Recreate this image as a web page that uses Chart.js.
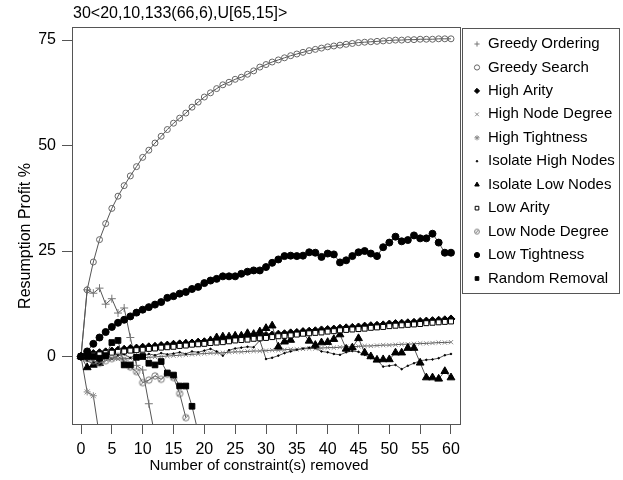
<!DOCTYPE html>
<html>
<head>
<meta charset="utf-8">
<script src="https://cdn.jsdelivr.net/npm/chart.js@4.4.1/dist/chart.umd.min.js"></script>
<style>
  html, body { margin: 0; padding: 0; background: #fff; }
  #wrap { position: relative; width: 623px; height: 480px; }
</style>
</head>
<body>
<div id="wrap"><canvas id="chart"></canvas></div>
<script>
var chartTitle = '30<20,10,133(66,6),U[65,15]>';
var xTitle = 'Number of constraint(s) removed';
var yTitle = 'Resumption Profit %';
var xTicks = [0, 5, 10, 15, 20, 25, 30, 35, 40, 45, 50, 55, 60];
var yTicks = [0, 25, 50, 75];

var seriesNames = ['Greedy Ordering', 'Greedy Search', 'High Arity', 'High Node Degree', 'High Tightness',
  'Isolate High Nodes', 'Isolate Low Nodes', 'Low Arity', 'Low Node Degree', 'Low Tightness', 'Random Removal'];

// values per removed constraint (index = number removed)
var greedyOrdering = [0, 15.8, 15.0, 16.2, 12.4, 13.7, 10.3, 11.5, 4.5, -2.1, -3.2, -11.2, -19];
var greedySearch = [0, 15.8, 22.4, 27.7, 31.5, 35.1, 38.0, 40.5, 42.8, 45.0, 47.2, 48.9, 50.6, 52.2, 53.8,
  55.3, 56.5, 57.7, 59.1, 60.3, 61.5, 62.5, 63.5, 64.4, 65.0, 65.7, 66.2, 66.9, 67.7, 68.6, 69.2, 69.8,
  70.3, 70.8, 71.3, 71.7, 72.1, 72.5, 72.8, 73.1, 73.4, 73.6, 73.8, 74.0, 74.2, 74.4, 74.5, 74.6, 74.7,
  74.8, 74.9, 75.0, 75.0, 75.1, 75.1, 75.2, 75.2, 75.2, 75.3, 75.3, 75.3];
var highArity = [0, 0.4, 0.7, 0.9, 1.1, 1.3, 1.5, 1.7, 1.9, 2.0, 2.2, 2.3, 2.4, 2.6, 2.7, 2.9, 3.0, 3.1,
  3.2, 3.4, 3.5, 3.7, 3.8, 4.0, 4.1, 4.3, 4.4, 4.5, 4.7, 4.8, 5.0, 5.1, 5.3, 5.4, 5.6, 5.7, 5.9, 6.0,
  6.1, 6.3, 6.4, 6.5, 6.7, 6.8, 6.9, 7.0, 7.2, 7.3, 7.4, 7.5, 7.7, 7.8, 7.9, 8.0, 8.1, 8.3, 8.4, 8.5,
  8.6, 8.7, 8.9];
var highNodeDegree = [0, -0.4, -0.6, -0.7, -0.7, -0.6, -0.6, -0.5, -0.4, -0.4, -0.3, -0.2, -0.1, 0, 0.1,
  0.2, 0.3, 0.4, 0.5, 0.6, 0.7, 0.8, 0.8, 0.9, 1.0, 1.1, 1.1, 1.2, 1.3, 1.3, 1.4, 1.5, 1.5, 1.6, 1.7,
  1.7, 1.8, 1.9, 1.9, 2.0, 2.1, 2.1, 2.2, 2.3, 2.3, 2.4, 2.5, 2.5, 2.6, 2.7, 2.7, 2.8, 2.9, 2.9, 3.0,
  3.1, 3.1, 3.2, 3.3, 3.3, 3.4];
var highTightness = [0, -8.4, -9.3, -19];
var isolateHighNodes = [0, -1.0, -1.8, -0.5, 0.3, -0.5, 0.2, 0.5, -0.3, 0.4, 0.0, 0.6, 0.3, 0.8, 0.5,
  0.7, 1.0, 0.6, 1.2, 1.0, 1.4, 1.8, 1.2, 0.2, 1.5, 1.9, 2.1, 2.3, 2.2, 3.8, -0.6, -0.3, 0.2, 0.8, 1.2,
  1.6, 1.9, 2.1, 2.0, 1.2, 1.0, 0.6, 0.4, 1.0, 1.3, 1.1, 0.4, -0.4, -0.8, -2.4, -2.2, -2.0, -3.0, -2.2,
  -1.6, -1.0, -0.8, -0.7, -0.4, 0.3, 0.6];
var isolateLowNodes = [0, -2.6, -2.0, -1.6, 0.5, 1.0, 1.2, 1.5, 1.5, 1.8, 2.0, 2.0, 2.2, 2.3, 2.5, 2.7,
  2.8, 3.0, 3.0, 3.2, 3.3, 3.8, 4.5, 4.7, 4.7, 4.9, 4.9, 5.5, 5.3, 5.9, 6.7, 7.3, 2.3, 3.5, 3.9, 5.4,
  5.6, 3.7, 2.7, 3.3, 3.4, 4.1, 5.2, 1.8, 2.1, 4.3, 0.9, 0.0, -0.8, -0.7, -0.7, 0.9, 0.9, 2.0, 2.0,
  -1.5, -5.0, -5.0, -5.3, -3.5, -5.0];
var lowArity = [0, 0.2, 0.4, 0.5, 0.8, 0.9, 1.1, 1.2, 1.4, 1.5, 1.6, 1.8, 1.9, 2.1, 2.2, 2.3, 2.5, 2.6,
  2.8, 2.9, 3.0, 3.2, 3.3, 3.4, 3.6, 3.8, 3.9, 4.0, 4.2, 4.3, 4.4, 4.6, 4.8, 4.9, 5.0, 5.2, 5.4, 5.5,
  5.6, 5.7, 5.9, 6.0, 6.2, 6.3, 6.4, 6.5, 6.6, 6.8, 6.9, 7.0, 7.2, 7.3, 7.4, 7.5, 7.6, 7.7, 7.9, 8.0,
  8.1, 8.2, 8.3];
var lowNodeDegree = [0, -0.5, -1.0, -1.6, -1.0, -0.5, 0.0, -1.0, -2.5, -3.6, -6.2, -5.6, -4.6, -5.4,
  -4.2, -5.0, -8.8, -14.5];
var lowTightness = [0, 1.2, 3.0, 4.5, 5.8, 7.0, 8.0, 8.7, 9.5, 10.4, 11.1, 11.7, 12.3, 12.9, 13.9, 14.3,
  14.9, 15.3, 16.0, 16.5, 17.4, 18.0, 18.4, 19.0, 19.0, 19.0, 19.6, 20.1, 20.4, 20.4, 21.2, 22.2, 23.0,
  23.8, 23.9, 23.8, 23.9, 24.7, 24.6, 23.6, 24.4, 24.2, 22.3, 22.8, 23.8, 24.7, 25.0, 24.4, 23.8, 25.9,
  27.0, 28.4, 27.3, 27.6, 28.7, 28.0, 28.0, 29.1, 27.0, 24.6, 24.6];
var randomRemoval = [0, 0, 0, -0.4, 0.2, 3.3, 3.8, -2.0, -2.0, -0.2, 0, -1.6, -2.0, -1.2, -3.9, -4.4,
  -7.0, -7.0, -11.8, -18];

var seriesValues = [greedyOrdering, greedySearch, highArity, highNodeDegree, highTightness,
  isolateHighNodes, isolateLowNodes, lowArity, lowNodeDegree, lowTightness, randomRemoval];

var FONT = '"Liberation Sans", Arial, sans-serif';

// circle with a slash, for Low Node Degree
function slashCircle(r, color) {
  var s = Math.ceil(r * 2 + 3);
  var c = document.createElement('canvas');
  c.width = s; c.height = s;
  var g = c.getContext('2d');
  g.strokeStyle = color;
  g.lineWidth = 1;
  g.beginPath(); g.arc(s / 2, s / 2, r, 0, Math.PI * 2); g.stroke();
  g.beginPath();
  g.moveTo(s / 2 - r * 0.7, s / 2 + r * 0.7);
  g.lineTo(s / 2 + r * 0.7, s / 2 - r * 0.7);
  g.stroke();
  return c;
}

var markers = [
  { style: 'cross', r: 4, fill: '#777', stroke: '#777' },
  { style: 'circle', r: 3, fill: 'rgba(0,0,0,0)', stroke: '#666' },
  { style: 'rectRot', r: 4, fill: '#000', stroke: '#000' },
  { style: 'crossRot', r: 3, fill: '#888', stroke: '#888' },
  { style: 'star', r: 3.5, fill: '#888', stroke: '#888' },
  { style: 'circle', r: 0.8, fill: '#000', stroke: '#000' },
  { style: 'triangle', r: 4.5, fill: '#000', stroke: '#000' },
  { style: 'rect', r: 3.5, fill: '#fff', stroke: '#000' },
  { style: slashCircle(3.2, '#777'), r: 3.5, fill: '#777', stroke: '#777', legend: slashCircle(2.4, '#777') },
  { style: 'circle', r: 3.5, fill: '#000', stroke: '#000' },
  { style: 'rect', r: 4, fill: '#000', stroke: '#000' }
];

var datasets = seriesNames.map(function (name, i) {
  var m = markers[i];
  return {
    label: name,
    data: seriesValues[i].map(function (v, k) { return { x: k, y: v }; }),
    borderColor: '#555',
    borderWidth: 1,
    tension: 0,
    pointStyle: m.style,
    pointRadius: m.r,
    pointBackgroundColor: m.fill,
    pointBorderColor: m.stroke,
    pointBorderWidth: 1,
    order: seriesNames.length - i
  };
});

var decor = {
  id: 'decor',
  afterDraw: function (chart) {
    var ctx = chart.ctx;
    var a = chart.chartArea;
    ctx.save();
    ctx.strokeStyle = '#555';
    ctx.lineWidth = 1;
    ctx.strokeRect(Math.round(a.left) + 0.5, Math.round(a.top) + 0.5,
      Math.round(a.right - a.left), Math.round(a.bottom - a.top));

    ctx.fillStyle = '#000';
    ctx.textBaseline = 'middle';
    ctx.textAlign = 'left';
    ctx.font = '16px ' + FONT;
    ctx.fillText(chartTitle, 73, 14);

    ctx.font = '15px ' + FONT;
    ctx.textAlign = 'center';
    ctx.fillText(xTitle, 259, 466);
    ctx.save();
    ctx.font = '16px ' + FONT;
    ctx.translate(26, 236);
    ctx.rotate(-Math.PI / 2);
    ctx.fillText(yTitle, 0, 0);
    ctx.restore();

    // legend box
    ctx.strokeRect(462.5, 28.5, 157, 265);
    ctx.textAlign = 'left';
    seriesNames.forEach(function (name, i) {
      var y = 44 + i * 23.45;
      var m = markers[i];
      ctx.fillStyle = m.fill;
      ctx.strokeStyle = m.stroke;
      Chart.helpers.drawPoint(ctx, {
        pointStyle: m.legend || m.style,
        radius: Math.min(m.r, 2.6),
        rotation: 0,
        borderWidth: 1
      }, 477, y);
      ctx.fillStyle = '#000';
      ctx.fillText(name, 488, y);
    });
    ctx.restore();
  }
};

new Chart(document.getElementById('chart'), {
  type: 'line',
  data: { datasets: datasets },
  options: {
    responsive: true,
    maintainAspectRatio: false,
    animation: false,
    layout: { padding: { left: 0, top: 27, right: 163, bottom: 0 } },
    plugins: { legend: { display: false }, tooltip: { enabled: false }, title: { display: false } },
    scales: {
      x: {
        type: 'linear',
        min: -1.46,
        max: 61.46,
        afterFit: function (s) { s.height = 56; },
        afterBuildTicks: function (s) { s.ticks = xTicks.map(function (v) { return { value: v }; }); },
        grid: { drawOnChartArea: false, drawTicks: true, tickLength: 10, color: '#555' },
        border: { display: true, color: '#555' },
        ticks: { font: { family: FONT, size: 16 }, color: '#000', padding: 6, maxRotation: 0, autoSkip: false }
      },
      y: {
        type: 'linear',
        min: -16.0,
        max: 78.1,
        afterFit: function (s) { s.width = 72; },
        afterBuildTicks: function (s) { s.ticks = yTicks.map(function (v) { return { value: v }; }); },
        grid: { drawOnChartArea: false, drawTicks: true, tickLength: 10, color: '#555' },
        border: { display: true, color: '#555' },
        ticks: { font: { family: FONT, size: 16 }, color: '#000', padding: 6 }
      }
    }
  },
  plugins: [decor]
});
</script>
</body>
</html>
